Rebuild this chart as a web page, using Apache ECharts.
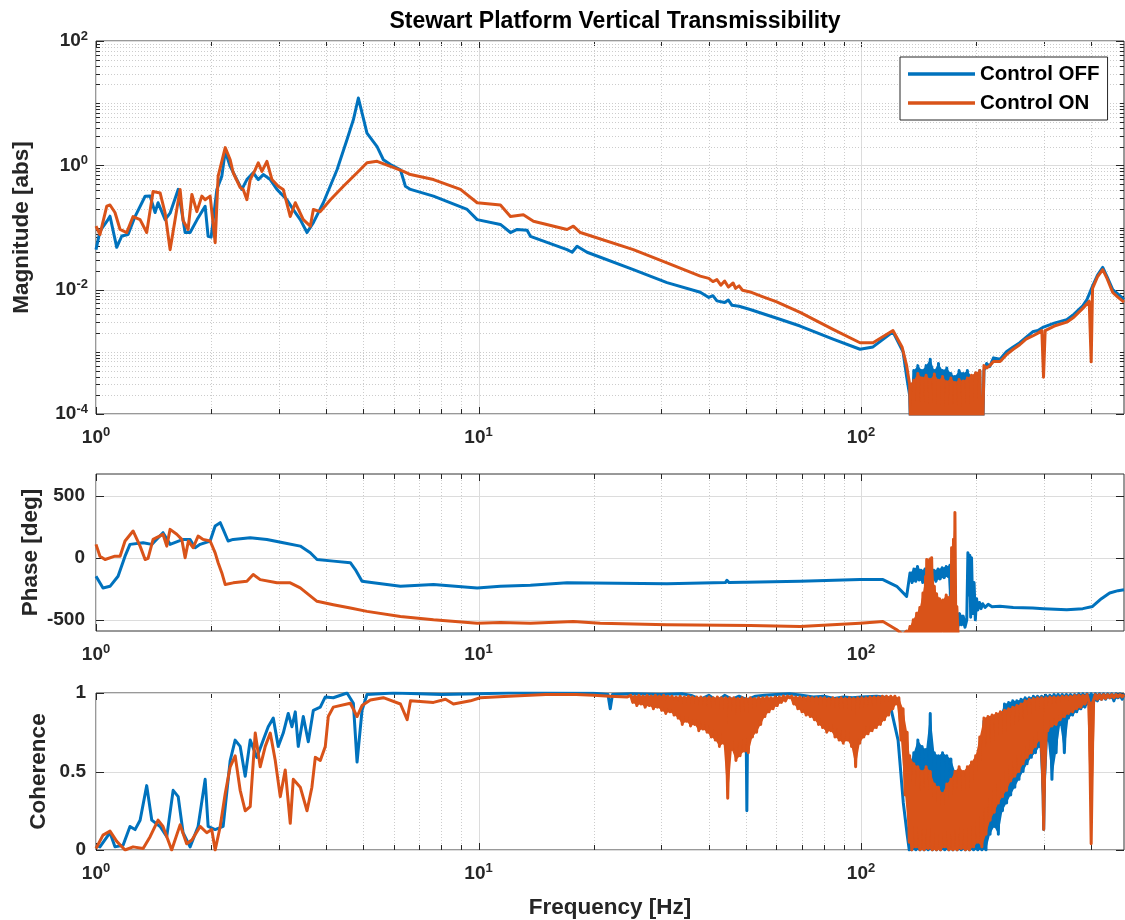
<!DOCTYPE html>
<html><head><meta charset="utf-8">
<script src="https://cdn.jsdelivr.net/npm/echarts@6.0.0/dist/echarts.min.js"></script>
<style>html,body{margin:0;padding:0;background:#fff}#c{width:1125px;height:920px}</style>
</head><body><div id="c"></div>
<script>
// ---------------- tick values ----------------
const xMajor = [1, 10, 100];
const xMinor = [2,3,4,5,6,7,8,9,20,30,40,50,60,70,80,90,200,300,400];
const magMajor = [1e-4, 1e-2, 1, 100];
const magMinor = [2e-4,3e-4,4e-4,5e-4,6e-4,7e-4,8e-4,9e-4,1e-3,2e-3,3e-3,4e-3,5e-3,6e-3,7e-3,8e-3,9e-3,
  2e-2,3e-2,4e-2,5e-2,6e-2,7e-2,8e-2,9e-2,0.1,0.2,0.3,0.4,0.5,0.6,0.7,0.8,0.9,2,3,4,5,6,7,8,9,10,20,30,40,50,60,70,80,90];
const phaseMajor = [-500, 0, 500];
const cohMajor = [0, 0.5, 1];

// ---------------- frequency grids for the dense (noisy) parts ----------------
const fLow = [25.00,25.31,25.63,25.95,26.27,26.60,26.93,27.27,27.61,27.95,
28.30,28.66,29.01,29.38,29.74,30.12,30.49,30.87,31.26,31.65,
32.05,32.45,32.85,33.26,33.68,34.10,34.53,34.96,35.39,35.84,
36.28,36.74,37.20,37.66,38.13,38.61,39.09,39.58,40.08,40.58,
41.09,41.60,42.12,42.65,43.18,43.72,44.27,44.82,45.38,45.95,
46.52,47.10,47.69,48.29,48.89,49.50,50.12,50.75,51.38,52.02,
52.67,53.33,54.00,54.67,55.36,56.05,56.75,57.46,58.17,58.90,
59.64,60.38,61.14,61.90,62.68,63.46,64.25,65.06,65.87,66.69,
67.53,68.37,69.23,70.09,70.97,71.86,72.76,73.66,74.58,75.52,
76.46,77.42,78.38,79.36,80.36,81.36,82.38,83.41,84.45,85.50,
86.57,87.65,88.75,89.86,90.98,92.12,93.27,94.44,95.62,96.81,
98.02,99.25,100.5,101.7,103.0,104.3,105.6,106.9,108.3,109.6,
111.0,112.4,113.8,115.2,116.6,118.1,119.6,121.1,122.6,124.1,
125.6,127.2,128.8,130.4,132.0,133.7];
const fBand = [134.0,135.7,137.4,139.1,140.8,142.6,144.4,146.2,148.0,149.8,151.7,153.6,155.5,157.5,159.4,161.4,163.4,165.5,
167.6,169.7,171.8,173.9,176.1,178.3,180.5,182.8,185.1,187.4,189.7,192.1,194.5,196.9,199.4,201.9,204.4,207.0];
const fHigh = [209.6,212.2,214.8,217.5,220.2,223.0,225.8,228.6,231.4,
234.3,237.2,240.2,243.2,246.2,249.3,252.4,255.6,258.8,262.0,
265.3,268.6,271.9,275.3,278.8,282.3,285.8,289.4,293.0,296.6,
300.3,304.1,307.9,311.7,315.6,319.6,323.6,327.6,331.7,335.9,
340.1,344.3,348.6,353.0,357.4,361.9,366.4,371.0,375.6,380.3,
385.1,389.9,394.8,399.7,404.7,409.8,414.9,420.1,425.3,430.6,
436.0,441.5,447.0,452.6,458.2,464.0,469.8,475.6,481.6,487.6];

// ---------------- magnitude ----------------
const magOff = [[1.0,0.044],[1.024,0.087],[1.075,0.134],[1.088,0.152],[1.133,0.048],[1.168,0.073],[1.213,0.077],[1.265,0.15],
[1.344,0.318],[1.385,0.32],[1.427,0.174],[1.453,0.25],[1.516,0.134],[1.562,0.17],[1.64,0.41],[1.71,0.083],[1.762,0.083],
[1.838,0.134],[1.929,0.22],[1.964,0.072],[2.0,0.07],[2.07,0.41],[2.133,0.67],[2.177,1.68],[2.243,0.96],[2.335,0.59],
[2.406,0.41],[2.48,0.59],[2.576,0.76],[2.656,0.59],[2.737,0.71],[2.855,0.59],[2.972,0.41],[3.156,0.28],[3.279,0.194],
[3.42,0.134],[3.562,0.083],[3.70,0.12],[3.929,0.25],[4.267,0.85],[4.532,2.6],[4.708,5.4],[4.852,12.1],[4.96,7],[5.11,3.3],
[5.43,2.0],[5.64,1.23],[5.885,1.03],[6.25,0.85],[6.44,0.46],[6.64,0.41],[7.625,0.32],[9.34,0.195],[9.92,0.134],[11.41,0.112],
[12.12,0.083],[12.62,0.093],[13.4,0.09],[13.67,0.072],[17.04,0.044],[17.57,0.04],[18.1,0.05],[19.22,0.04],[25.4,0.021],
[31.1,0.013],[38.0,0.0091],[40,0.0075],[41,0.008],[42,0.0066],[44,0.0062],[45,0.0068],[46,0.0056],[48,0.0054],[51.3,0.0048],
[60,0.0035],[69.3,0.0026],[84.5,0.0016],[99.4,0.0011],[107.5,0.0012],[121.2,0.0021],[128.8,0.001],[131.6,0.0004]];
const magOffBand = [2e-4,1e-5,5e-4,1e-5,6e-4,1e-5,5e-4,1e-5,6e-4,1e-5,7.6e-4,1e-5,5e-4,1e-5,6.5e-4,1e-5,5e-4,1e-5,
5.5e-4,1e-5,4.5e-4,1e-5,4e-4,1e-5,5e-4,1e-5,4.5e-4,1e-5,5e-4,1e-5,4e-4,1e-5,4.5e-4,1e-5,5e-4,1e-5];
const magOffHigh = [[209.6,0.0005],[213,0.00065],[217,0.00058],[222,0.0008],[231,0.00076],[240,0.001],[250,0.0012],
[260,0.0014],[270,0.0017],[281,0.0021],[290,0.0022],[300,0.0025],[320,0.0029],[345,0.0033],[360,0.004],[380,0.0055],
[390,0.007],[403,0.0114],[415,0.017],[428.5,0.0228],[440,0.016],[455,0.01],[470,0.0085],[487,0.007]];

const magOn = [[1.0,0.105],[1.024,0.077],[1.067,0.22],[1.088,0.23],[1.121,0.174],[1.156,0.093],[1.203,0.083],[1.25,0.15],
[1.304,0.134],[1.357,0.083],[1.41,0.38],[1.471,0.36],[1.516,0.17],[1.562,0.044],[1.61,0.134],[1.659,0.41],[1.689,0.13],
[1.741,0.093],[1.781,0.34],[1.835,0.18],[1.891,0.32],[1.929,0.28],[1.988,0.32],[2.049,0.057],[2.086,0.67],[2.177,1.93],
[2.243,1.23],[2.284,0.76],[2.382,0.44],[2.426,0.41],[2.48,0.28],[2.53,0.59],[2.608,0.85],[2.656,1.1],[2.715,0.8],[2.798,1.16],
[2.884,0.59],[2.995,0.46],[3.087,0.41],[3.22,0.15],[3.319,0.25],[3.483,0.134],[3.633,0.105],[3.70,0.195],[3.858,0.18],
[4.1,0.28],[4.433,0.46],[4.814,0.76],[5.11,1.1],[5.43,1.16],[5.885,0.96],[6.365,0.8],[6.64,0.71],[7.625,0.59],[8.97,0.41],
[9.92,0.25],[11.41,0.23],[12.12,0.15],[13.1,0.16],[13.92,0.126],[17.04,0.093],[17.7,0.105],[18.46,0.083],[25.4,0.044],
[31.1,0.027],[38.0,0.0165],[40,0.0152],[41,0.0135],[42,0.0145],[43,0.0118],[44,0.0138],[45,0.011],[46.3,0.0128],[47,0.0105],
[48,0.0115],[49,0.0098],[51.3,0.0092],[55,0.0078],[60,0.0064],[69.3,0.0043],[84.5,0.0023],[99.4,0.0014],[107.5,0.0014],
[121.2,0.0022],[128,0.0012],[131.6,0.0006]];
const magOnBand = [3e-4,1e-5,3.5e-4,1e-5,4.5e-4,1e-5,3.8e-4,1e-5,4.2e-4,1e-5,3.6e-4,1e-5,4.4e-4,1e-5,3.5e-4,1e-5,4e-4,1e-5,
3.3e-4,1e-5,3.8e-4,1e-5,3.2e-4,1e-5,3.6e-4,1e-5,3.4e-4,1e-5,3.8e-4,1e-5,4.2e-4,1e-5,4.6e-4,1e-5,5e-4,1e-5];
const magOnHigh = [[209.6,0.0006],[213,0.00055],[217,0.0006],[222,0.0007],[231,0.0007],[240,0.0009],[250,0.0011],[260,0.0013],
[270,0.0016],[281,0.0018],[290,0.002],[297,0.0022],[300,0.00039],[303,0.0022],[320,0.0026],[345,0.003],[360,0.0036],
[380,0.005],[395,0.0065],[399.7,0.00069],[403,0.0105],[415,0.016],[428.5,0.021],[440,0.015],[455,0.009],[470,0.0075],[487,0.0063]];

// ---------------- phase ----------------
const phaseOff = [[1.0,-149],[1.043,-243],[1.088,-230],[1.142,-149],[1.191,13],[1.227,108],[1.328,121],[1.399,108],[1.497,202],
[1.562,108],[1.689,148],[1.762,148],[1.816,81],[1.872,108],[1.988,135],[2.049,256],[2.112,283],[2.15,229],[2.215,135],
[2.284,148],[2.53,162],[2.798,148],[3.087,121],[3.42,94],[3.633,40],[3.783,-14],[4.173,-27],[4.623,-40],[4.764,-95],
[4.96,-190],[5.31,-202],[6.25,-230],[7.625,-216],[9.92,-243],[11.41,-230],[13.67,-222],[17.04,-202],[31.1,-210],[44.2,-200],
[44.6,-181],[45.2,-200],[49.3,-198],[49.6,-183],[50,-198],[69.3,-189],[99.4,-176],[114.1,-176],[124,-230],[131.6,-311]];
// noisy band, alternating upper / lower readings
const phaseOffBandA = [[134.3,-122],[136,-200],[137.5,-90],[139,-190],[140.5,-70],[142,-180],[143.5,-100],[145,-200],[147,-90],
[149,-170],[151,-80],[153,-180],[155,-100],[157,-190],[159,-90],[161,-170],[163,-80],[165,-160],[167,-70],[169,-150],
[170.8,-60],[171.5,-480],[173,-400],[175,-530],[177,-430],[179,-560],[181,-450],[183,-540],[185,-470],[187,-560],[189,-500]];
const phaseOffBandB = [[190.3,40],[191.5,-300],[192.5,20],[193.5,-480],[194.5,0],[196,-450],[197.5,-200],[199,-500],[200.5,-330],[202,-420],
[204,-360],[206,-410],[208,-370],[211,-400],[215,-375],[220,-395],[230.7,-390],[250,-400],[281,-405],[300,-410],[345,-419],
[380,-410],[403,-392],[425,-330],[446.7,-284],[470,-265],[487,-257]];

const phaseOn = [[1.0,108],[1.024,13],[1.056,-14],[1.121,13],[1.156,13],[1.191,135],[1.25,216],[1.304,94],[1.344,-14],
[1.368,-5],[1.41,148],[1.497,189],[1.531,94],[1.562,229],[1.626,189],[1.676,148],[1.71,0],[1.744,135],[1.794,81],[1.849,175],
[1.906,148],[1.988,135],[2.049,40],[2.086,-40],[2.133,-122],[2.177,-216],[2.284,-202],[2.48,-189],[2.576,-135],[2.687,-176],
[2.972,-202],[3.22,-202],[3.42,-243],[3.783,-351],[4.173,-378],[4.623,-405],[5.11,-432],[6.25,-473],[7.625,-500],[9.92,-527],
[11.41,-521],[13.67,-527],[17.7,-513],[20.8,-527],[31.1,-540],[51.3,-545],[69.3,-554],[99.4,-527],[114.1,-513],[124,-580],
[128.8,-620]];
// noisy band, alternating upper / lower readings
const phaseOnBand = [[131.6,-590],[132.9,-640],[134.3,-554],[135.5,-640],[137,-500],[138.5,-640],[139.8,-446],[141,-640],
[142.5,-400],[144,-640],[145.2,-284],[146.5,-640],[147.5,-150],[148,-640],[148.5,-14],[150,-640],[151.4,-10],[152.5,-640],
[153,0],[154.2,-640],[155.5,-230],[156.5,-640],[157.6,-290],[159,-640],[160.5,-330],[162,-640],[163.8,-340],[165.5,-640],
[167,-300],[168.5,-640],[170,-320],[170.8,-640],[171.8,-300],[172.1,-640],[172.5,81],[173.5,-640],[174.5,150],[175.3,-640],
[176,364],[177,-640],[178,-392],[179.5,-640]];
const phaseOnTail = [[183,-700],[200,-800],[300,-850],[487,-800]];

// ---------------- coherence ----------------
const cohOff = [[1.0,0.03],[1.024,0.02],[1.088,0.11],[1.121,0.02],[1.177,0.03],[1.227,0.15],[1.265,0.13],[1.304,0.19],
[1.357,0.41],[1.399,0.19],[1.471,0.15],[1.531,0.085],[1.591,0.38],[1.64,0.34],[1.689,0.11],[1.762,0.02],[1.849,0.15],
[1.929,0.45],[1.964,0.15],[2.049,0.13],[2.15,0.15],[2.243,0.57],[2.311,0.7],[2.382,0.66],[2.455,0.47],[2.53,0.7],[2.634,0.59],
[2.737,0.7],[2.82,0.785],[2.907,0.84],[2.995,0.66],[3.087,0.745],[3.181,0.87],[3.253,0.785],[3.319,0.88],[3.379,0.66],
[3.483,0.85],[3.589,0.69],[3.70,0.89],[3.858,0.91],[3.976,0.975],[4.173,0.97],[4.532,1.0],[4.708,0.935],[4.814,0.56],
[4.96,0.89],[5.11,0.99],[6,1.0],[7,0.995],[8,0.99],[10,0.995],[12,1.0],[15,1.0],[20,0.998],[21.8,0.99],[22.1,0.9],[22.4,0.99],
[25,0.995],[30,0.99],[34,0.995],[36,0.985],[38,0.96],[40,0.985],[42,0.95],[44,0.985],[46,0.96],[48,0.98],[50,0.96],[50.3,0.25],
[50.6,0.96],[53,0.98],[56,0.985],[60,0.99],[65,0.995],[70,0.985],[75,0.975],[80,0.98],[85,0.965],[90,0.975],[95,0.97],
[100,0.975],[110,0.98],[118,0.97],[121.3,0.84],[125,0.7],[129,0.3],[132,0.1],[133.7,0.0]];
const cohOffBand = [0.55,0.0,0.62,0.0,0.7,0.0,0.66,0.0,0.64,0.0,0.87,0.0,0.62,0.0,0.6,0.0,0.62,0.0,0.6,0.0,0.58,0.0,
0.5,0.0,0.45,0.0,0.43,0.0,0.4,0.0,0.45,0.0,0.5,0.0,0.55,0.0];
const cohOffHigh = [0.82,0.0,0.83,0.1,0.84,0.15,0.85,0.1,0.86,
0.25,0.93,0.3,0.94,0.35,0.95,0.4,0.95,0.45,0.96,
0.5,0.97,0.55,0.97,0.59,0.98,0.62,0.98,0.66,0.98,
0.13,0.985,0.7,0.985,0.45,0.99,0.62,0.99,0.8,0.99,
0.62,0.99,0.84,0.99,0.86,0.99,0.88,0.995,0.9,0.995,
0.91,0.995,0.93,0.995,0.94,0.995,0.95,0.995,0.96,0.995,
0.96,0.995,0.97,0.995,0.95,0.995,0.97,0.995,0.96,0.995];

const cohOn = [[1.0,0.01],[1.043,0.095],[1.088,0.12],[1.133,0.055],[1.191,0.0],[1.25,0.02],[1.328,0.01],[1.385,0.085],
[1.453,0.19],[1.497,0.15],[1.577,0.0],[1.659,0.16],[1.726,0.04],[1.781,0.064],[1.872,0.15],[1.948,0.11],[2.007,0.13],
[2.049,0.0],[2.112,0.15],[2.177,0.36],[2.243,0.53],[2.311,0.6],[2.382,0.38],[2.455,0.25],[2.53,0.276],[2.608,0.745],
[2.687,0.53],[2.77,0.66],[2.855,0.745],[2.942,0.57],[3.032,0.34],[3.124,0.51],[3.22,0.17],[3.279,0.45],[3.42,0.4],
[3.562,0.25],[3.668,0.4],[3.744,0.59],[3.858,0.57],[3.976,0.66],[4.048,0.85],[4.173,0.91],[4.623,0.935],[4.814,0.85],
[4.96,0.92],[5.215,0.955],[5.64,0.97],[6.25,0.93],[6.508,0.83],[6.64,0.95],[7.625,0.94],[8.2,0.96],[8.6,0.93],[9.53,0.95],
[10.1,0.97],[12,0.98],[15,0.99],[18,0.99],[20,0.985],[22,0.98],[24.5,0.975]];
const cohOnLow = [0.985,0.94,0.98,0.92,0.985,0.93,0.98,0.91,0.985,0.92,
0.98,0.9,0.985,0.91,0.98,0.89,0.985,0.87,0.98,0.88,
0.98,0.86,0.975,0.84,0.98,0.8,0.975,0.82,0.98,0.79,
0.975,0.8,0.975,0.76,0.975,0.77,0.97,0.75,0.975,0.72,
0.97,0.7,0.975,0.66,0.97,0.68,0.97,0.33,0.97,0.64,
0.97,0.57,0.965,0.6,0.97,0.63,0.965,0.62,0.97,0.72,
0.965,0.75,0.97,0.8,0.97,0.85,0.975,0.88,0.97,0.9,
0.975,0.92,0.975,0.94,0.98,0.95,0.98,0.97,0.98,0.93,
0.975,0.9,0.975,0.88,0.97,0.86,0.975,0.85,0.97,0.83,
0.97,0.8,0.97,0.78,0.97,0.75,0.965,0.76,0.97,0.72,
0.965,0.7,0.97,0.68,0.965,0.7,0.97,0.66,0.965,0.53,
0.97,0.68,0.97,0.72,0.97,0.74,0.975,0.76,0.975,0.78,
0.975,0.8,0.98,0.83,0.98,0.86,0.98,0.9,0.98,0.93,
0.97,0.7,0.9,0.35,0.75,0.05];
const cohOnBand = [0.6,0.0,0.55,0.02,0.53,0.0,0.5,0.0,0.53,0.01,0.5,0.0,0.42,0.0,0.4,0.0,0.36,0.02,0.42,0.0,0.45,0.0,
0.5,0.0,0.53,0.01,0.5,0.0,0.53,0.0,0.56,0.02,0.6,0.05,0.72,0.02];
const cohOnHigh = [0.84,0.1,0.85,0.19,0.86,0.24,0.87,0.3,0.88,
0.34,0.89,0.38,0.9,0.44,0.91,0.47,0.92,0.5,0.93,
0.55,0.95,0.59,0.96,0.62,0.965,0.66,0.97,0.7,0.97,
0.13,0.97,0.76,0.975,0.79,0.975,0.8,0.975,0.83,0.98,
0.85,0.98,0.87,0.98,0.88,0.985,0.9,0.985,0.91,0.985,
0.93,0.99,0.94,0.04,0.95,0.99,0.96,0.99,0.96,0.99,
0.965,0.99,0.97,0.99,0.97,0.99,0.975,0.99,0.975,0.99];

// ---------------- build ----------------
function zip(fs, vs) { return fs.map(function (f, i) { return [f, vs[i]]; }); }
const BLUE = '#0072BD', ORANGE = '#D95319';
const FONT = '"Liberation Sans", Arial, Helvetica, sans-serif';
const TXT = '#262626';

const rich = {
  b: { fontSize: 19, fontWeight: 'bold', color: TXT, fontFamily: FONT },
  s: { fontSize: 13, fontWeight: 'bold', color: TXT, fontFamily: FONT, padding: [0, 0, 10, 0] }
};
function supLabel(v) {
  const l = Math.log10(v), e = Math.round(l);
  if (Math.abs(l - e) > 1e-6) return '';
  return '{b|10}{s|' + e + '}';
}

const grids = [
  { left: 96, top: 41, width: 1028, height: 373 },
  { left: 96, top: 474, width: 1028, height: 157 },
  { left: 96, top: 693, width: 1028, height: 157 }
].map(function (g) {
  return Object.assign({ show: true, borderColor: '#333', borderWidth: 1, backgroundColor: '#fff', containLabel: false, outerBoundsMode: 'none' }, g);
});

const nameStyle = { fontSize: 22.5, fontWeight: 'bold', color: TXT, fontFamily: FONT };
const plainLabel = { fontSize: 19, fontWeight: 'bold', color: TXT, fontFamily: FONT };

const xAxes = [0, 1, 2].map(function (g) {
  const ax = {
    type: 'log', logBase: 10, gridIndex: g, min: 1, max: 487,
    axisLine: { show: false }, axisTick: { show: false }, splitLine: { show: false },
    axisLabel: { margin: 12, formatter: supLabel, rich: rich, showMaxLabel: false }
  };
  if (g === 2) {
    ax.name = 'Frequency [Hz]'; ax.nameLocation = 'middle'; ax.nameGap = 46; ax.nameTextStyle = nameStyle; ax.nameMoveOverlap = false;
  }
  return ax;
});

const yAxes = [
  { type: 'log', logBase: 10, gridIndex: 0, min: 1e-4, max: 100,
    axisLine: { show: false }, axisTick: { show: false }, splitLine: { show: false },
    axisLabel: { margin: 8, rich: rich, formatter: function (v) { const e = Math.round(Math.log10(v)); return (e % 2 === 0) ? '{b|10}{s|' + e + '}' : ''; } },
    name: 'Magnitude [abs]', nameLocation: 'middle', nameGap: 63, nameTextStyle: nameStyle, nameMoveOverlap: false },
  { type: 'value', gridIndex: 1, min: -590, max: 675, interval: 5,
    axisLine: { show: false }, axisTick: { show: false }, splitLine: { show: false },
    axisLabel: Object.assign({ margin: 11, formatter: function (v) { return (Math.round(v) % 500 === 0) ? String(Math.round(v)) : ''; } }, plainLabel),
    name: 'Phase [deg]', nameLocation: 'middle', nameGap: 54, nameTextStyle: nameStyle, nameMoveOverlap: false },
  { type: 'value', gridIndex: 2, min: 0, max: 1, interval: 0.5,
    axisLine: { show: false }, axisTick: { show: false }, splitLine: { show: false },
    axisLabel: Object.assign({ margin: 10 }, plainLabel),
    name: 'Coherence', nameLocation: 'middle', nameGap: 46, nameTextStyle: nameStyle, nameMoveOverlap: false }
];

function px(v) { return Math.round(v) + 0.5; }

function xLines(g, yRef) {
  return {
    type: 'custom', xAxisIndex: g, yAxisIndex: g, z: 1, silent: true, clip: false,
    dimensions: ['x', 'y', 'm'], encode: { x: 0, y: 1 },
    data: xMajor.map(function (v) { return [v, yRef, 1]; }).concat(xMinor.map(function (v) { return [v, yRef, 0]; })),
    renderItem: function (params, api) {
      const cs = params.coordSys;
      const x = px(api.coord([api.value(0), yRef])[0]);
      const major = api.value(2) === 1;
      const t = cs.y, b = cs.y + cs.height, L = major ? 7 : 5;
      return { type: 'group', children: [
        { type: 'line', shape: { x1: x, y1: t, x2: x, y2: b }, style: { stroke: major ? '#dcdcdc' : '#cccccc', lineWidth: 1, lineDash: major ? null : [1, 2] } },
        { type: 'line', shape: { x1: x, y1: b, x2: x, y2: b - L }, style: { stroke: TXT, lineWidth: 1 } },
        { type: 'line', shape: { x1: x, y1: t, x2: x, y2: t + L }, style: { stroke: TXT, lineWidth: 1 } }
      ] };
    }
  };
}
function yLines(g, xRef, major, minor) {
  return {
    type: 'custom', xAxisIndex: g, yAxisIndex: g, z: 1, silent: true, clip: false,
    dimensions: ['x', 'y', 'm'], encode: { x: 0, y: 1 },
    data: major.map(function (v) { return [xRef, v, 1]; }).concat(minor.map(function (v) { return [xRef, v, 0]; })),
    renderItem: function (params, api) {
      const cs = params.coordSys;
      const y = px(api.coord([xRef, api.value(1)])[1]);
      const mj = api.value(2) === 1;
      const l = cs.x, r = cs.x + cs.width, L = mj ? 8 : 4;
      return { type: 'group', children: [
        { type: 'line', shape: { x1: l, y1: y, x2: r, y2: y }, style: { stroke: mj ? '#dcdcdc' : '#cccccc', lineWidth: 1, lineDash: mj ? null : [1, 2] } },
        { type: 'line', shape: { x1: l, y1: y, x2: l + L, y2: y }, style: { stroke: TXT, lineWidth: 1 } },
        { type: 'line', shape: { x1: r, y1: y, x2: r - L, y2: y }, style: { stroke: TXT, lineWidth: 1 } }
      ] };
    }
  };
}

function lineSeries(name, color, g, data, z) {
  return {
    type: 'line', name: name, xAxisIndex: g, yAxisIndex: g, data: data,
    showSymbol: false, symbol: 'none', clip: true, z: z, smooth: false,
    color: color, itemStyle: { color: color },
    lineStyle: { color: color, width: 3, join: 'round' }
  };
}
// fills the inside of a noisy stretch (alternating upper / lower readings) so it reads as a solid band
function bandFill(color, g, pts, z) {
  return {
    type: 'custom', xAxisIndex: g, yAxisIndex: g, z: z, silent: true, clip: true,
    data: [pts[0]],
    renderItem: function (params, api) {
      const top = [], bot = [];
      pts.forEach(function (p, i) { (i % 2 === 0 ? top : bot).push(api.coord(p)); });
      return { type: 'polygon', shape: { points: top.concat(bot.reverse()) }, style: { fill: color } };
    }
  };
}

const magOffBandPts = zip(fBand, magOffBand), magOnBandPts = zip(fBand, magOnBand);
const cohOffBandPts = zip(fBand, cohOffBand).concat(zip(fHigh, cohOffHigh));
const cohOnBandPts = zip(fLow, cohOnLow).concat(zip(fBand, cohOnBand), zip(fHigh, cohOnHigh));

const series = [
  xLines(0, 1), yLines(0, 1, magMajor, magMinor),
  xLines(1, 0), yLines(1, 1, phaseMajor, []),
  xLines(2, 0.5), yLines(2, 1, cohMajor, []),
  lineSeries('Control OFF', BLUE, 0, magOff.concat(magOffBandPts, magOffHigh), 3),
  bandFill(BLUE, 0, magOffBandPts, 3),
  lineSeries('Control ON', ORANGE, 0, magOn.concat(magOnBandPts, magOnHigh), 4),
  bandFill(ORANGE, 0, magOnBandPts, 4),
  lineSeries('Control OFF', BLUE, 1, phaseOff.concat(phaseOffBandA, phaseOffBandB), 3),
  bandFill(BLUE, 1, phaseOffBandA, 3),
  lineSeries('Control ON', ORANGE, 1, phaseOn.concat(phaseOnBand, phaseOnTail), 4),
  bandFill(ORANGE, 1, phaseOnBand, 4),
  lineSeries('Control OFF', BLUE, 2, cohOff.concat(cohOffBandPts), 3),
  bandFill(BLUE, 2, cohOffBandPts, 3),
  lineSeries('Control ON', ORANGE, 2, cohOn.concat(cohOnBandPts), 4),
  bandFill(ORANGE, 2, cohOnBandPts, 4)
];

const option = {
  animation: false,
  backgroundColor: '#fff',
  title: {
    text: 'Stewart Platform Vertical Transmissibility', left: 610, top: 5, textAlign: 'center',
    textStyle: { fontSize: 23, fontWeight: 'bold', color: '#000', fontFamily: FONT }
  },
  legend: {
    data: ['Control OFF', 'Control ON'], orient: 'vertical', left: 900, top: 57,
    padding: [6, 8, 6, 8], itemGap: 7, itemWidth: 67, itemHeight: 3.5, icon: 'rect',
    borderColor: '#262626', borderWidth: 1, backgroundColor: '#fff', selectedMode: false,
    textStyle: { fontSize: 20.5, fontWeight: 'bold', color: '#000', fontFamily: FONT, lineHeight: 22 }
  },
  grid: grids,
  xAxis: xAxes,
  yAxis: yAxes,
  series: series
};

const chart = echarts.init(document.getElementById('c'), null, { renderer: 'canvas' });
chart.setOption(option);
</script></body></html>
